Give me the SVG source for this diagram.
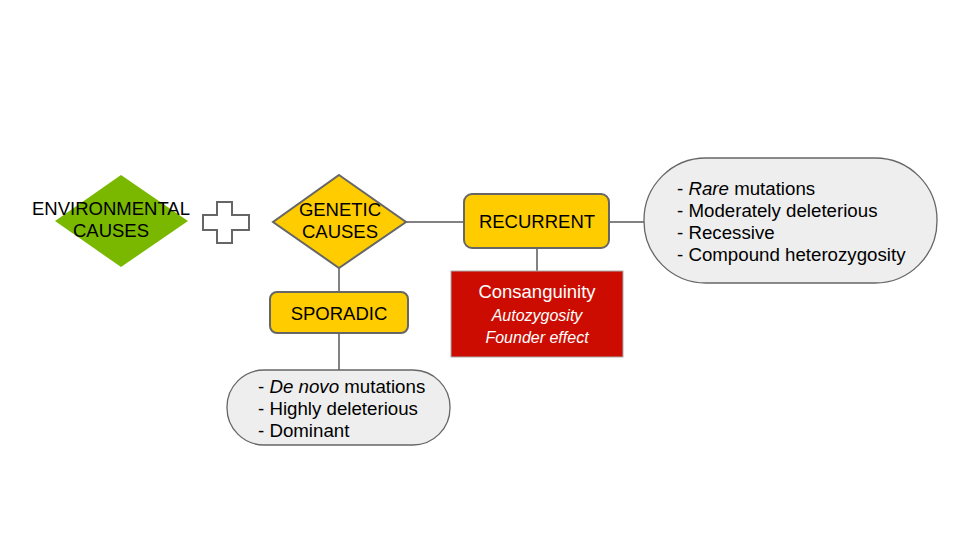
<svg xmlns="http://www.w3.org/2000/svg" width="960" height="540" viewBox="0 0 960 540">
<style>
text{font-family:"Liberation Sans",Arial,sans-serif;font-size:18.5px;fill:#000}
.c{text-anchor:middle}
.w{fill:#fff}
.it{font-style:italic}
.sm{font-size:16px}
.lst{font-size:18.7px}
.yel{fill:#ffcc00;stroke:#666;stroke-width:2}
.oval{fill:#eeeeee;stroke:#666;stroke-width:1.3}
.ln{stroke:#595959;stroke-width:1.5;fill:none}
</style>
<rect width="960" height="540" fill="#fff"/>
<g id="connectors">
<line class="ln" x1="406" y1="222" x2="464" y2="222"/>
<line class="ln" x1="609" y1="222" x2="644" y2="222"/>
<line class="ln" x1="537" y1="248" x2="537" y2="271"/>
<line class="ln" x1="339" y1="268" x2="339" y2="292"/>
<line class="ln" x1="339" y1="333" x2="339" y2="370"/>
</g>
<g id="environmental">
<polygon points="121,175 188,221 121,267 55,221" fill="#7ab800"/>
<text class="c" x="111" y="215">ENVIRONMENTAL</text>
<text class="c" x="111" y="237">CAUSES</text>
</g>
<g id="plus">
<polygon points="217,202 232,202 232,215 249,215 249,230 232,230 232,243 217,243 217,230 203,230 203,215 217,215" fill="#fff" stroke="#666" stroke-width="2"/>
</g>
<g id="genetic">
<polygon class="yel" points="339,175 406,222 339,268 273,222"/>
<text class="c" x="340" y="216">GENETIC</text>
<text class="c" x="340" y="238">CAUSES</text>
</g>
<g id="recurrent">
<rect class="yel" x="464" y="194" width="145" height="54" rx="8"/>
<text class="c" x="537" y="228">RECURRENT</text>
</g>
<g id="consanguinity">
<rect x="451" y="271" width="172" height="86" fill="#cc0c00" stroke="#aaa" stroke-width="1"/>
<text class="c w" x="537" y="298">Consanguinity</text>
<text class="c w it sm" x="537" y="321">Autozygosity</text>
<text class="c w it sm" x="537" y="343">Founder effect</text>
</g>
<g id="sporadic">
<rect class="yel" x="270" y="292" width="138" height="41" rx="7"/>
<text class="c" x="339" y="320">SPORADIC</text>
</g>
<g id="recurrent-traits">
<rect class="oval" x="644" y="158" width="293" height="125" rx="62"/>
<text class="lst" x="677" y="195">- <tspan class="it">Rare</tspan> mutations</text>
<text class="lst" x="677" y="217">- Moderately deleterious</text>
<text class="lst" x="677" y="239">- Recessive</text>
<text class="lst" x="677" y="261">- Compound heterozygosity</text>
</g>
<g id="sporadic-traits">
<rect class="oval" x="227" y="370" width="223" height="75" rx="37"/>
<text class="lst" x="258" y="393">- <tspan class="it">De novo</tspan> mutations</text>
<text class="lst" x="258" y="415">- Highly deleterious</text>
<text class="lst" x="258" y="437">- Dominant</text>
</g>
</svg>
